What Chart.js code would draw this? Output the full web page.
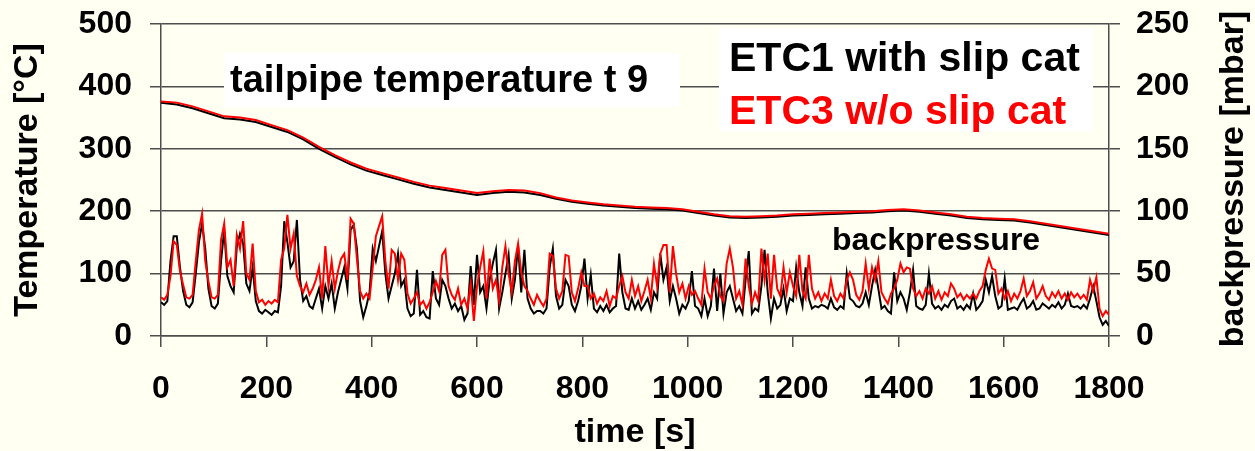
<!DOCTYPE html>
<html>
<head>
<meta charset="utf-8">
<script src="https://cdn.jsdelivr.net/npm/chart.js@4.4.0/dist/chart.umd.min.js"></script>
<style>
  html, body { margin: 0; padding: 0; background: #fffff2; }
  #wrap { width: 1255px; height: 451px; }
</style>
</head>
<body>
<div id="wrap"><canvas id="chart" width="1255" height="451"></canvas></div>
<script>
// ── DONNÉES ───────────────────────────────────────
// Température t9 (°C), un point toutes les 30 s
const PAS_TEMP = 30;
const tempETC3 = [
  376, 374, 368, 360, 352, 350, 346, 338, 330, 318,
  303, 290, 278, 268, 261, 254, 247, 241, 237, 233,
  229, 232, 234, 233, 229, 222, 217, 214, 211, 209,
  207, 206, 205, 203, 199, 195, 192, 191, 192, 193,
  195, 196, 197, 198, 199, 200, 202, 203, 201, 198,
  195, 191, 189, 188, 187, 184, 180, 176, 172, 168,
  164
];
const tempETC1 = [
  374, 371, 365, 357, 349, 347, 343, 335, 327, 315,
  300, 287, 275, 265, 258, 251, 244, 238, 234, 230,
  226, 229, 231, 230, 226, 220, 215, 212, 209, 207,
  205, 204, 203, 201, 197, 193, 190, 189, 190, 191,
  193, 194, 195, 196, 197, 198, 200, 201, 199, 196,
  193, 189, 187, 186, 185, 182, 178, 174, 170, 166,
  162
];

// Contre-pression (mbar), un point toutes les 6 s
const PAS_BP = 6;
const bpETC3 = [
  31, 29, 33, 48, 76, 73, 52, 41, 31, 30,
  33, 60, 85, 98, 60, 44, 31, 30, 33, 77,
  90, 55, 61, 40, 81, 70, 92, 50, 45, 74,
  36, 27, 29, 25, 28, 26, 29, 27, 61, 70,
  97, 70, 82, 48, 40, 35, 42, 33, 38, 45,
  55, 30, 72, 40, 60, 38, 52, 62, 66, 45,
  94, 90, 62, 36, 30, 34, 30, 55, 80, 88,
  96, 60, 38, 69, 66, 45, 66, 61, 34, 26,
  30, 35, 25, 28, 22, 27, 35, 44, 36, 65,
  69, 40, 33, 29, 38, 25, 30, 22, 42, 12,
  40, 55, 68, 30, 62, 38, 45, 28, 55, 72,
  50, 35, 60, 74, 51, 40, 36, 30, 25, 33,
  28, 24, 30, 66, 64, 38, 30, 36, 65, 64,
  35, 28, 38, 51, 40, 40, 30, 34, 26, 31,
  28, 36, 24, 32, 30, 40, 48, 35, 30, 45,
  32, 40, 28, 36, 45, 30, 58, 40, 66, 73,
  73, 35, 72, 50, 35, 42, 30, 40, 33, 36,
  30, 25, 54, 35, 30, 40, 46, 32, 28, 58,
  70, 55, 30, 36, 25, 62, 40, 26, 35, 28,
  70, 45, 66, 30, 65, 38, 32, 55, 35, 51,
  40, 32, 65, 36, 30, 65, 38, 30, 35, 28,
  34, 30, 45, 32, 28, 34, 30, 45, 51, 45,
  33, 29, 36, 58, 38, 55, 45, 60, 35, 30,
  26, 34, 38, 45, 58, 51, 55, 54, 38, 32,
  36, 30, 38, 34, 40, 30, 36, 29, 35, 32,
  42, 38, 31, 34, 29, 33, 30, 34, 30, 36,
  40, 53, 62, 54, 53, 34, 38, 30, 36, 28,
  34, 30, 36, 46, 32, 36, 43, 30, 34, 40,
  32, 29, 35, 31, 36, 30, 34, 29, 35, 31,
  34, 30, 33, 29, 45, 36, 47, 22, 16, 20,
  17
];
const bpETC1 = [
  27, 25, 28, 60, 80, 80, 55, 36, 25, 23,
  27, 50, 75, 90, 70, 38, 24, 22, 26, 60,
  85, 48, 40, 35, 72, 82, 74, 42, 36, 55,
  28, 20, 18, 21, 19, 17, 20, 19, 40, 92,
  75, 55, 60, 93, 45, 28, 32, 24, 22, 30,
  38, 22, 40, 30, 42, 22, 35, 45, 55, 38,
  85, 89, 70, 28, 15, 24, 35, 70, 60, 72,
  84, 50, 30, 40, 50, 66, 40, 45, 22, 16,
  18, 53, 17, 20, 15, 14, 52, 30, 25, 45,
  40, 30, 22, 26, 20, 24, 13, 18, 56, 25,
  65, 35, 40, 22, 45, 58, 69, 22, 35, 50,
  65, 30, 45, 72, 35, 69, 30, 22, 18, 20,
  20, 18, 22, 55, 70, 32, 22, 25, 45, 40,
  25, 20, 28, 40, 62, 30, 49, 22, 19, 24,
  20, 25, 19, 22, 24, 66, 35, 22, 21, 30,
  22, 28, 21, 25, 30, 21, 35, 30, 66, 45,
  55, 28, 40, 30, 18, 25, 22, 28, 52, 24,
  22, 16, 30, 16, 24, 54, 20, 50, 18, 35,
  40, 30, 20, 24, 18, 45, 68, 18, 22, 20,
  40, 69, 35, 14, 30, 22, 25, 38, 20, 30,
  28, 55, 35, 24, 55, 30, 22, 24, 23, 25,
  24, 22, 30, 23, 21, 24, 22, 50, 30, 28,
  24, 23, 26, 35, 25, 40, 53, 38, 22, 24,
  20, 18, 51, 28, 35, 30, 21, 35, 53, 24,
  22, 21, 25, 50, 26, 22, 24, 21, 25, 23,
  28, 30, 22, 24, 21, 25, 22, 34, 21, 24,
  28, 45, 35, 48, 32, 22, 24, 46, 21, 22,
  23, 21, 26, 30, 22, 24, 28, 21, 22, 26,
  24, 22, 25, 23, 27, 22, 25, 34, 24, 23,
  24, 22, 25, 22, 30, 40, 28, 15, 9, 12,
  8
];

// Graduations
const ticksTemps = [0, 200, 400, 600, 800, 1000, 1200, 1400, 1600, 1800];
const ticksTemp  = [0, 100, 200, 300, 400, 500];
const ticksBp    = [0, 50, 100, 150, 200, 250];

// ── STYLE ─────────────────────────────────────────
const POLICE = "'Liberation Sans', Arial, sans-serif";
const NOIR  = '#000000';
const ROUGE = '#ff0000';
const GRIS  = '#4d4d4d';

function gras(taille, hauteurLigne) {
  return { family: POLICE, size: taille, weight: 'bold', lineHeight: hauteurLigne || 1.2 };
}

function enPoints(pas, valeurs) {
  return valeurs.map(function(v, i) { return { x: i * pas, y: v }; });
}

function fixerTicks(liste) {
  return function(scale) { scale.ticks = liste.map(function(v) { return { value: v }; }); };
}

// Largeur fixe des axes verticaux, sans la marge que Chart.js ajoute pour les étiquettes
function largeurAxe(largeur) {
  return function(scale) {
    scale.width = largeur;
    scale.paddingTop = 0;
    scale.paddingBottom = 0;
  };
}

// Textes posés sur le graphique : cadres blancs, légende, titre de l'axe droit
const textesGraphique = {
  id: 'textesGraphique',
  afterDatasetsDraw(chart) {
    const ctx = chart.ctx;
    ctx.save();
    ctx.fillStyle = '#ffffff';
    ctx.fillRect(224, 53, 456, 54);
    ctx.fillRect(719, 28, 374, 103);

    ctx.textAlign = 'left';
    ctx.textBaseline = 'alphabetic';
    ctx.fillStyle = NOIR;
    ctx.font = 'bold 38px ' + POLICE;
    ctx.fillText('tailpipe temperature t 9', 230, 92);

    ctx.font = 'bold 41px ' + POLICE;
    ctx.fillText('ETC1 with slip cat', 729, 71);
    ctx.fillStyle = ROUGE;
    ctx.fillText('ETC3 w/o slip cat', 729, 124);

    ctx.fillStyle = NOIR;
    ctx.font = 'bold 32px ' + POLICE;
    ctx.fillText('backpressure', 832, 250);

    // titre de l'axe droit, lu de bas en haut
    ctx.font = 'bold 34px ' + POLICE;
    ctx.translate(1234, 179);
    ctx.rotate(-Math.PI / 2);
    ctx.textAlign = 'center';
    ctx.textBaseline = 'middle';
    ctx.fillText('backpressure [mbar]', 0, 0);
    ctx.restore();
  }
};

new Chart(document.getElementById('chart'), {
  type: 'line',
  data: {
    datasets: [
      { label: 'ETC3 w/o slip cat',  data: enPoints(PAS_TEMP, tempETC3), yAxisID: 'y',  borderColor: ROUGE, order: 0 },
      { label: 'ETC1 with slip cat', data: enPoints(PAS_TEMP, tempETC1), yAxisID: 'y',  borderColor: NOIR,  order: 1 },
      { label: 'ETC3 w/o slip cat',  data: enPoints(PAS_BP, bpETC3),     yAxisID: 'y2', borderColor: ROUGE, order: 0 },
      { label: 'ETC1 with slip cat', data: enPoints(PAS_BP, bpETC1),     yAxisID: 'y2', borderColor: NOIR,  order: 1 }
    ]
  },
  options: {
    responsive: false,
    animation: false,
    layout: { padding: { top: 24, left: 0, right: 0, bottom: 0 } },
    elements: {
      point: { radius: 0 },
      line:  { borderWidth: 2, tension: 0, fill: false }
    },
    plugins: { legend: { display: false }, tooltip: { enabled: false } },
    scales: {
      x: {
        type: 'linear', min: 0, max: 1800,
        afterBuildTicks: fixerTicks(ticksTemps),
        afterFit: function(s) { s.height = 115; },
        grid: { drawOnChartArea: false, tickLength: 11, color: GRIS, lineWidth: 1.5 },
        border: { color: GRIS, width: 1.5 },
        ticks: {
          color: NOIR, font: gras(32), padding: 23, maxRotation: 0, autoSkip: false,
          callback: function(v) { return String(v); }
        },
        title: { display: true, text: 'time [s]', color: NOIR, font: gras(34, 1), padding: { top: 0, bottom: 1 } }
      },
      y: {
        position: 'left', min: 0, max: 500,
        afterBuildTicks: fixerTicks(ticksTemp),
        afterFit: largeurAxe(161),
        grid: { tickLength: 11, color: GRIS, lineWidth: 1.5 },
        border: { color: GRIS, width: 1.5 },
        ticks: { color: NOIR, font: gras(32), padding: 18 },
        title: { display: true, text: 'Temperature [°C]', color: NOIR, font: gras(34), padding: { top: 7, bottom: 0 } }
      },
      y2: {
        position: 'right', min: 0, max: 250,
        afterBuildTicks: fixerTicks(ticksBp),
        afterFit: largeurAxe(146),
        grid: { drawOnChartArea: false, tickLength: 11, color: GRIS, lineWidth: 1.5 },
        border: { color: GRIS, width: 1.5 },
        ticks: { color: NOIR, font: gras(32), padding: 16 }
      }
    }
  },
  plugins: [textesGraphique]
});
</script>
</body>
</html>
